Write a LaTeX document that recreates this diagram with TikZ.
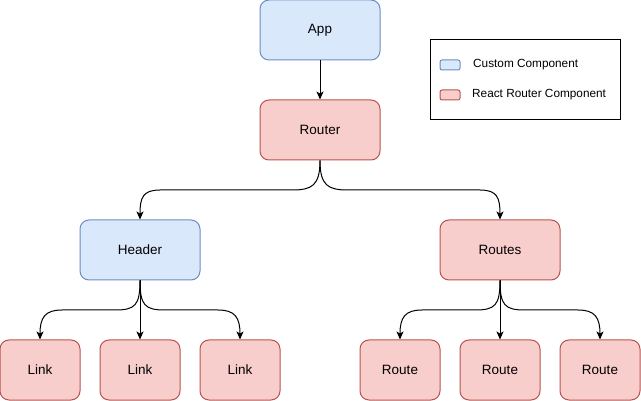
\documentclass[tikz,border=0pt]{standalone}
\usepackage{fontspec}
\setmainfont{Liberation Sans}
\usepackage{tikz}
\usetikzlibrary{arrows.meta, calc}
\definecolor{custfill}{HTML}{DAE8FC}
\definecolor{custline}{HTML}{6C8EBF}
\definecolor{rrfill}{HTML}{F8CECC}
\definecolor{rrline}{HTML}{B85450}
\tikzset{
    box/.style={draw, line width=1pt, rounded corners=9pt, minimum height=60pt,
        font=\fontsize{13.5}{16}\selectfont, inner sep=0pt},
    custom/.style={box, fill=custfill, draw=custline, minimum width=120pt},
    router/.style={box, fill=rrfill, draw=rrline, minimum width=120pt},
    leaf/.style={box, fill=rrfill, draw=rrline, minimum width=80pt},
    swatch/.style={draw, line width=1pt, rounded corners=2pt, minimum width=20pt,
        minimum height=10pt, inner sep=0pt},
    conn/.style={line width=1pt, -{Stealth[length=8pt, width=7pt, inset=2pt]}}
}

\begin{document}
\begin{tikzpicture}[x=1pt, y=-1pt]
    \useasboundingbox (0,0) rectangle (641,401);

    % Boxes
    \node[custom] (app) at (320,30) {App};
    \node[router] (router) at (320,130) {Router};
    \node[custom] (header) at (140,250) {Header};
    \node[router] (routes) at (500,250) {Routes};

    \node[leaf] (link1) at (40,370) {Link};
    \node[leaf] (link2) at (140,370) {Link};
    \node[leaf] (link3) at (240,370) {Link};

    \node[leaf] (route1) at (400,370) {Route};
    \node[leaf] (route2) at (500,370) {Route};
    \node[leaf] (route3) at (600,370) {Route};

    % Edges
    \draw[conn] (app) -- (router);
    \draw[conn] (router.south) .. controls +(0,25) and +(20,0) .. (292,190)
        -- (160,190) .. controls +(-17,0) and +(0,-22) .. (header.north);
    \draw[conn] (router.south) .. controls +(0,25) and +(-20,0) .. (348,190)
        -- (480,190) .. controls +(17,0) and +(0,-22) .. (routes.north);

    \draw[conn] (header.south) .. controls +(0,25) and +(20,0) .. (115,310)
        -- (62,310) .. controls +(-17,0) and +(0,-22) .. (link1.north);
    \draw[conn] (header) -- (link2);
    \draw[conn] (header.south) .. controls +(0,25) and +(-20,0) .. (165,310)
        -- (218,310) .. controls +(17,0) and +(0,-22) .. (link3.north);

    \draw[conn] (routes.south) .. controls +(0,25) and +(20,0) .. (475,310)
        -- (422,310) .. controls +(-17,0) and +(0,-22) .. (route1.north);
    \draw[conn] (routes) -- (route2);
    \draw[conn] (routes.south) .. controls +(0,25) and +(-20,0) .. (525,310)
        -- (578,310) .. controls +(17,0) and +(0,-22) .. (route3.north);

    % Legend
    \node[draw, line width=1pt, minimum width=190pt, minimum height=80pt, inner sep=0pt]
        (legend) at (525,80) {};
    \node[swatch, fill=custfill, draw=custline] (keycust) at (450,65) {};
    \node[swatch, fill=rrfill, draw=rrline] (keyrr) at (450,95) {};
    \node[anchor=west, inner sep=0pt, font=\fontsize{11.8}{14}\selectfont]
        (txtcust) at (473,65) {Custom Component};
    \node[anchor=west, inner sep=0pt, font=\fontsize{11.8}{14}\selectfont]
        (txtrr) at (472,95) {React Router Component};
\end{tikzpicture}
\end{document}
